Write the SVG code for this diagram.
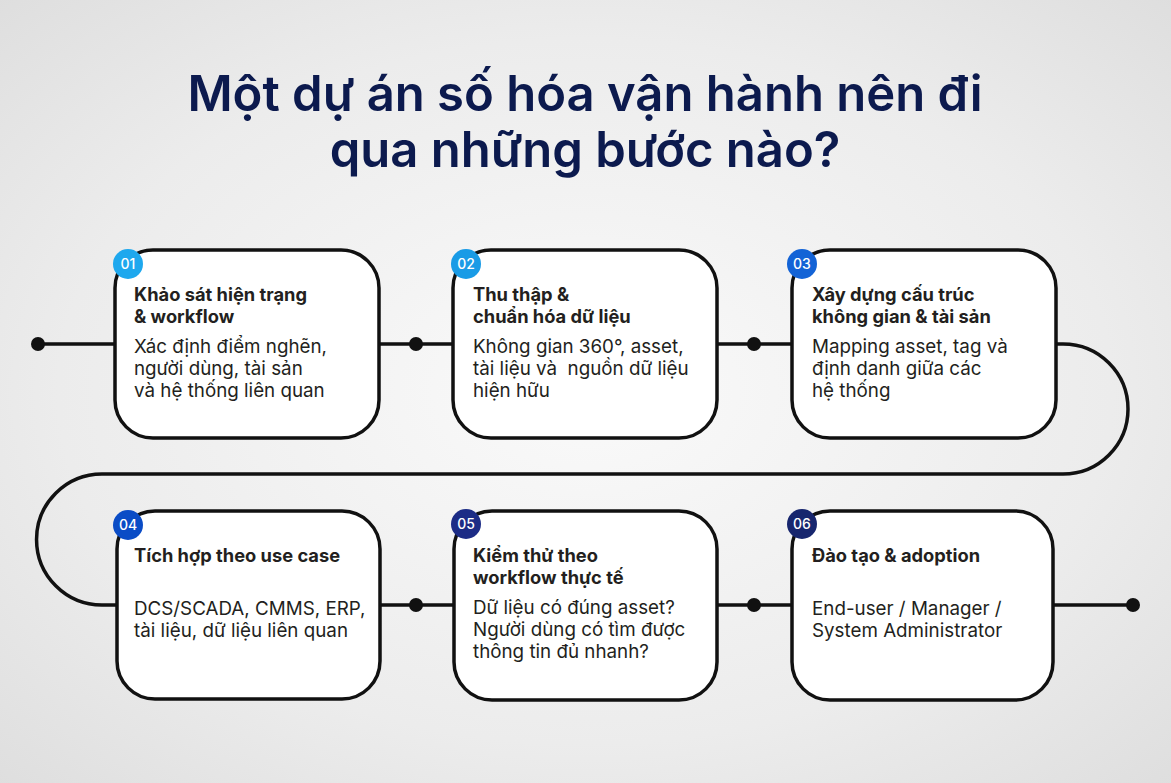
<svg xmlns="http://www.w3.org/2000/svg" width="1171" height="783" viewBox="0 0 1171 783">
<defs>
<radialGradient id="bg" cx="0.5" cy="0.5" r="0.75">
<stop offset="0" stop-color="#fafafa"/>
<stop offset="0.6" stop-color="#ececec"/>
<stop offset="1" stop-color="#dcdcdc"/>
</radialGradient>
<style>
.node{fill:#ffffff;stroke:#111111;stroke-width:3.5}
.conn{fill:none;stroke:#111111;stroke-width:3.5}
.dot{fill:#111111}
.ttl{font-family:Inter,"Noto Sans",sans-serif;font-weight:700;font-size:18.3px;fill:#231f20}
.body{font-family:Inter,"Noto Sans",sans-serif;font-weight:400;font-size:18.8px;fill:#231f20}
.badge{font-family:Inter,"Noto Sans",sans-serif;font-weight:500;font-size:14px;fill:#ffffff;text-anchor:middle}
.head{font-family:Inter,"Noto Sans",sans-serif;font-weight:600;font-size:49px;fill:#0c1a4e;text-anchor:middle}
</style>
</defs>
<rect width="1171" height="783" fill="url(#bg)"/>
<text class="head" x="585" y="111">Một dự án số hóa vận hành nên đi</text>
<text class="head" x="585" y="167">qua những bước nào?</text>

<g id="connectors">
<path class="conn" d="M38 344 H1063 A65 65 0 0 1 1063 474 H102 A65 65 0 0 0 102 605 H1133"/>
<circle class="dot" cx="38" cy="344" r="7"/>
<circle class="dot" cx="416" cy="344" r="7"/>
<circle class="dot" cx="754" cy="344" r="7"/>
<circle class="dot" cx="416" cy="605" r="7"/>
<circle class="dot" cx="754" cy="605" r="7"/>
<circle class="dot" cx="1133" cy="605" r="7"/>
</g>

<g id="node1">
<rect class="node" x="115" y="250" width="264" height="188" rx="38"/>
<circle cx="128" cy="264" r="15" fill="#1ea8ee"/>
<text class="badge" x="128" y="269">01</text>
<text class="ttl" x="134" y="301">Khảo sát hiện trạng</text>
<text class="ttl" x="134" y="323">&amp; workflow</text>
<text class="body" x="134" y="353">Xác định điểm nghẽn,</text>
<text class="body" x="134" y="375">người dùng, tài sản</text>
<text class="body" x="134" y="397">và hệ thống liên quan</text>
</g>

<g id="node2">
<rect class="node" x="453" y="250" width="264" height="188" rx="38"/>
<circle cx="466" cy="264" r="15" fill="#199be6"/>
<text class="badge" x="466" y="269">02</text>
<text class="ttl" x="473" y="301">Thu thập &amp;</text>
<text class="ttl" x="473" y="323">chuẩn hóa dữ liệu</text>
<text class="body" x="473" y="353">Không gian 360°, asset,</text>
<text class="body" x="473" y="375" xml:space="preserve">tài liệu và  nguồn dữ liệu</text>
<text class="body" x="473" y="397">hiện hữu</text>
</g>

<g id="node3">
<rect class="node" x="792" y="250" width="264" height="188" rx="38"/>
<circle cx="802" cy="264" r="15" fill="#1363d6"/>
<text class="badge" x="802" y="269">03</text>
<text class="ttl" x="812" y="301">Xây dựng cấu trúc</text>
<text class="ttl" x="812" y="323">không gian &amp; tài sản</text>
<text class="body" x="812" y="353">Mapping asset, tag và</text>
<text class="body" x="812" y="375">định danh giữa các</text>
<text class="body" x="812" y="397">hệ thống</text>
</g>

<g id="node4">
<rect class="node" x="117" y="511" width="263" height="188" rx="38"/>
<circle cx="128" cy="525" r="15" fill="#0a4cc6"/>
<text class="badge" x="128" y="530">04</text>
<text class="ttl" x="134" y="562">Tích hợp theo use case</text>
<text class="body" x="134" y="615">DCS/SCADA, CMMS, ERP,</text>
<text class="body" x="134" y="637">tài liệu, dữ liệu liên quan</text>
</g>

<g id="node5">
<rect class="node" x="454" y="511" width="263" height="189" rx="38"/>
<circle cx="466" cy="524" r="15" fill="#1c2c86"/>
<text class="badge" x="466" y="529">05</text>
<text class="ttl" x="473" y="562">Kiểm thử theo</text>
<text class="ttl" x="473" y="584">workflow thực tế</text>
<text class="body" x="473" y="614">Dữ liệu có đúng asset?</text>
<text class="body" x="473" y="636">Người dùng có tìm được</text>
<text class="body" x="473" y="658">thông tin đủ nhanh?</text>
</g>

<g id="node6">
<rect class="node" x="792" y="511" width="261" height="189" rx="38"/>
<circle cx="802" cy="524" r="15" fill="#17266e"/>
<text class="badge" x="802" y="529">06</text>
<text class="ttl" x="812" y="562">Đào tạo &amp; adoption</text>
<text class="body" x="812" y="615">End-user / Manager /</text>
<text class="body" x="812" y="637">System Administrator</text>
</g>
</svg>
